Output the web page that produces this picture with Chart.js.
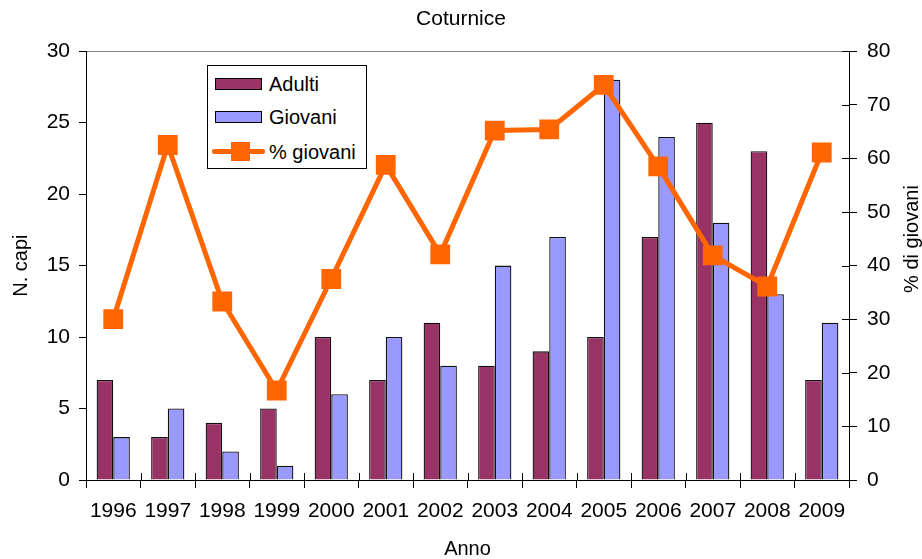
<!DOCTYPE html>
<html>
<head>
<meta charset="utf-8">
<script src="https://cdn.jsdelivr.net/npm/chart.js@4/dist/chart.umd.min.js"></script>
<style>
  html, body { margin: 0; padding: 0; background: #fff; }
  #wrap { position: relative; width: 922px; height: 559px; }
  #legend {
    position: absolute; left: 207px; top: 65px; width: 158px; height: 102px;
    border: 1px solid #000; background: #fff;
    font: 20px "Liberation Sans", Arial, sans-serif; color: #000;
  }
  .row { position: absolute; left: 0; height: 24px; line-height: 24px; }
  .row span { position: absolute; left: 61px; top: 0; white-space: nowrap; }
  .sw { position: absolute; left: 7px; top: 6px; width: 45px; height: 10px; border: 1px solid #000; }
  .ln { position: absolute; left: 4px; top: 9px; width: 53px; height: 5px; background: #ff6600; border-radius: 2px; }
  .mk { position: absolute; left: 23px; top: 2px; width: 19px; height: 19px; background: #ff6600; }
</style>
</head>
<body>
<div id="wrap">
  <canvas id="chart"></canvas>
  <div id="legend">
    <div class="row" style="top:6px"><div class="sw" style="background:#993366"></div><span>Adulti</span></div>
    <div class="row" style="top:39px"><div class="sw" style="background:#9999ff"></div><span>Giovani</span></div>
    <div class="row" style="top:74px"><div class="ln"></div><div class="mk"></div><span>% giovani</span></div>
  </div>
</div>
<script>
// Coturnice counts per year
const years = ["1996", "1997", "1998", "1999", "2000", "2001", "2002", "2003", "2004", "2005", "2006", "2007", "2008", "2009"];
const adulti = [7, 3, 4, 5, 10, 7, 11, 8, 9, 10, 17, 25, 23, 7];
const giovani = [3, 5, 2, 1, 6, 10, 8, 15, 17, 28, 24, 18, 13, 11];
const percGiovani = [30, 62.5, 33.3, 16.7, 37.5, 58.8, 42.1, 65.2, 65.4, 73.7, 58.5, 41.9, 36.1, 61.1];

Chart.defaults.font.family = "'Liberation Sans', Arial, sans-serif";
Chart.defaults.font.size = 21;
Chart.defaults.color = "#000";

// right axis title reads bottom to top, so draw it here
// also the tick marks that cross into the plot (x axis and right axis)
const extras = {
    id: "extras",
    afterDraw(chart) {
        const ctx = chart.ctx;
        const area = chart.chartArea;
        const x = chart.scales.x;
        const y1 = chart.scales.y1;
        ctx.save();
        ctx.strokeStyle = "#000";
        ctx.lineWidth = 1;
        ctx.beginPath();
        for (let i = 0; i <= years.length; i++) {
            const px = Math.round(x.left + (x.width / years.length) * i) + 0.5;
            ctx.moveTo(px, area.bottom);
            ctx.lineTo(px, area.bottom - 7);
        }
        y1.ticks.forEach((t) => {
            const py = Math.round(y1.getPixelForValue(t.value)) + 0.5;
            ctx.moveTo(area.right, py);
            ctx.lineTo(area.right - 7, py);
        });
        ctx.stroke();

        ctx.translate(912, 239);
        ctx.rotate(-Math.PI / 2);
        ctx.font = "20px 'Liberation Sans', Arial, sans-serif";
        ctx.fillStyle = "#000";
        ctx.textAlign = "center";
        ctx.textBaseline = "middle";
        ctx.fillText("% di giovani", 0, 0);
        ctx.restore();
    }
};

const ctx = document.getElementById("chart").getContext("2d");
const chart = new Chart(ctx, {
    type: "bar",
    data: {
        labels: years,
        datasets: [
            {
                type: "line",
                label: "% giovani",
                data: percGiovani,
                yAxisID: "y1",
                borderColor: "#ff6600",
                backgroundColor: "#ff6600",
                borderWidth: 5,
                pointStyle: "rect",
                pointRadius: 14,
                pointBorderWidth: 0,
                pointBackgroundColor: "#ff6600",
                order: 0,
            },
            {
                label: "Adulti",
                data: adulti,
                yAxisID: "y",
                backgroundColor: "#993366",
                borderColor: "#111",
                borderWidth: 1.3,
                order: 1,
            },
            {
                label: "Giovani",
                data: giovani,
                yAxisID: "y",
                backgroundColor: "#9999ff",
                borderColor: "#111",
                borderWidth: 1.3,
                order: 1,
            },
        ],
    },
    options: {
        responsive: true,
        maintainAspectRatio: false,
        animation: false,
        categoryPercentage: 0.61,
        barPercentage: 1,
        layout: { padding: 0 },
        scales: {
            x: {
                grid: {
                    offset: true,
                    drawOnChartArea: false,
                    tickLength: 8,
                    color: "#000",
                    tickColor: "#000",
                },
                border: { color: "#000", width: 1 },
                ticks: { padding: 11, maxRotation: 0, autoSkip: false },
                title: { display: true, text: "Anno", font: { size: 20 }, padding: { top: 0, bottom: -2 } },
                afterFit: (scale) => { scale.height = 79; },
            },
            y: {
                position: "left",
                min: 0,
                max: 30,
                ticks: { stepSize: 5, padding: 9 },
                grid: {
                    color: (c) => (c.tick && c.tick.value === 30 ? "#8c8c8c" : "rgba(0,0,0,0)"),
                    tickColor: "#000",
                    tickLength: 7,
                },
                border: { color: "#000", width: 1 },
                title: { display: true, text: "N. capi", font: { size: 20 }, padding: { top: 9, bottom: 0 } },
                afterFit: (scale) => { scale.width = 86; },
            },
            y1: {
                position: "right",
                min: 0,
                max: 80,
                ticks: { stepSize: 10, padding: 10 },
                grid: {
                    drawOnChartArea: false,
                    color: "#000",
                    tickColor: "#000",
                    tickLength: 8,
                },
                border: { color: "#000", width: 1 },
                afterFit: (scale) => { scale.width = 73; },
            },
        },
        plugins: {
            legend: { display: false },
            tooltip: { enabled: false },
            title: {
                display: true,
                text: "Coturnice",
                font: { size: 21, weight: "normal" },
                padding: { top: 7, bottom: 19 },
            },
        },
    },
    plugins: [extras],
});
</script>
</body>
</html>
